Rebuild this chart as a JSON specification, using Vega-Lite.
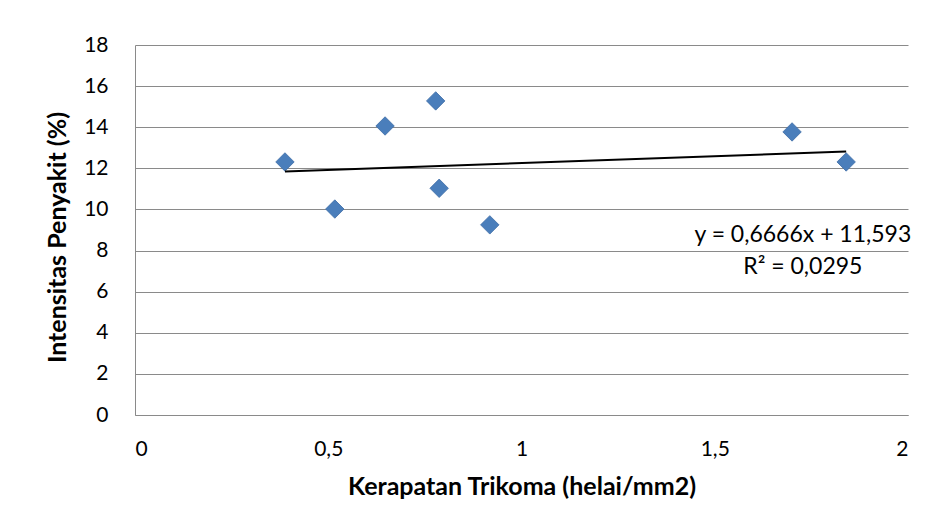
{
  "$schema": "https://vega.github.io/schema/vega-lite/v6.json",
  "width": 773,
  "height": 370,
  "padding": {"left": 135, "top": 45, "right": 24, "bottom": 117},
  "autosize": {"type": "none"},
  "background": "white",
  "config": {
    "view": {"stroke": null},
    "font": "Lato",
    "axis": {
      "labelFont": "Lato",
      "titleFont": "Lato",
      "titleFontSize": 25,
      "labelColor": "#000000",
      "titleColor": "#000000",
      "gridColor": "#8a8a8a",
      "gridWidth": 1,
      "domainColor": "#8a8a8a",
      "domainWidth": 1,
      "ticks": false
    }
  },
  "datasets": {
    "points": [
      {"kerapatan": 0.388, "intensitas": 12.31},
      {"kerapatan": 0.517, "intensitas": 10.02},
      {"kerapatan": 0.647, "intensitas": 14.06},
      {"kerapatan": 0.778, "intensitas": 15.28},
      {"kerapatan": 0.787, "intensitas": 11.03},
      {"kerapatan": 0.918, "intensitas": 9.25},
      {"kerapatan": 1.700, "intensitas": 13.77},
      {"kerapatan": 1.840, "intensitas": 12.31}
    ],
    "trend": [
      {"kerapatan": 0.388, "intensitas": 11.852},
      {"kerapatan": 1.840, "intensitas": 12.819}
    ]
  },
  "layer": [
    {
      "data": {"name": "points"},
      "mark": {"type": "point", "shape": "diamond", "filled": true, "size": 340, "color": "#4a7ebb", "stroke": "#3d6ca6", "strokeWidth": 0.8, "opacity": 1},
      "encoding": {
        "x": {
          "field": "kerapatan", "type": "quantitative",
          "scale": {"domain": [0, 2], "nice": false, "zero": true},
          "axis": {
            "values": [0, 0.5, 1, 1.5, 2],
            "format": "~g",
            "labelExpr": "replace(datum.label, '.', ',')",
            "labelFontSize": 21,
            "grid": false,
            "labelPadding": 23,
            "title": "Kerapatan Trikoma (helai/mm2)",
            "titleFontWeight": "bold",
            "titlePadding": 15
          }
        },
        "y": {
          "field": "intensitas", "type": "quantitative",
          "scale": {"domain": [0, 18], "nice": false},
          "axis": {
            "values": [0, 2, 4, 6, 8, 10, 12, 14, 16, 18],
            "labelFontSize": 21,
            "grid": true,
            "labelPadding": 27,
            "title": "Intensitas Penyakit (%)",
            "titleFontWeight": "bold",
            "titlePadding": 13,
            "titleY": 192
          }
        }
      }
    },
    {
      "data": {"name": "trend"},
      "mark": {"type": "line", "color": "#000000", "strokeWidth": 2},
      "encoding": {
        "x": {"field": "kerapatan", "type": "quantitative"},
        "y": {"field": "intensitas", "type": "quantitative"}
      }
    },
    {
      "data": {"values": [{}]},
      "mark": {
        "type": "text",
        "text": ["y = 0,6666x + 11,593", "R² = 0,0295"],
        "align": "center",
        "baseline": "middle",
        "fontSize": 23,
        "lineHeight": 32,
        "font": "Lato",
        "color": "#000000"
      },
      "encoding": {
        "x": {"datum": 1.728, "type": "quantitative"},
        "y": {"datum": 8.76, "type": "quantitative"}
      }
    }
  ]
}
